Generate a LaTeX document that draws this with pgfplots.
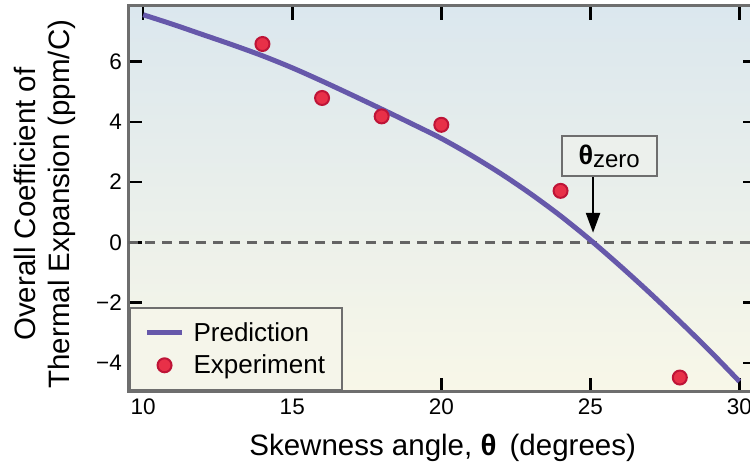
\documentclass[border=0pt]{standalone}
\usepackage{fontspec}
\setmainfont{Liberation Sans}
\usepackage{pgfplots}
\pgfplotsset{compat=1.18}
\usetikzlibrary{arrows.meta}
\definecolor{axgray}{RGB}{110,110,110}
\definecolor{curvec}{RGB}{102,88,170}
\definecolor{mkfill}{RGB}{232,48,72}
\definecolor{mkdraw}{RGB}{190,20,55}
\definecolor{bgtop}{RGB}{219,231,238}
\definecolor{bgbot}{RGB}{248,247,232}
\definecolor{legfill}{RGB}{245,245,234}
\definecolor{boxfill}{RGB}{236,240,236}
\definecolor{dashgray}{RGB}{100,100,100}
\begin{document}
\begin{tikzpicture}
\begin{axis}[
  at={(128.3pt,72.3pt)}, anchor=south west,
  scale only axis, width=628.7pt, height=386pt,
  xmin=9.5, xmax=30.59, ymin=-4.95, ymax=7.85,
  xtick={10,15,20,25,30}, xticklabels={10,15,20,25,30},
  ytick={-4,-2,0,2,4,6}, yticklabels={−4,−2,0,2,4,6},
  tick align=inside, major tick length=14pt,
  every tick/.style={black, line width=2.5pt},
  axis line style={axgray, line width=3pt},
  axis background/.style={top color=bgtop, bottom color=bgbot},
  ticklabel style={font=\fontsize{22.5}{26}\selectfont},
  xticklabel style={yshift=-4pt},
  yticklabel style={xshift=-3pt},
  xlabel={Skewness angle, \textbf{θ}\, (degrees)},
  ylabel={Overall Coefficient of\\Thermal Expansion (ppm/C)},
  label style={font=\fontsize{29.5}{34}\selectfont},
  xlabel style={at={(axis description cs:0.5,0)}, anchor=base, yshift=-63.3pt},
  ylabel style={at={(axis description cs:-0.133,0.486)}, anchor=center, align=center},
  legend style={at={(axis description cs:0,0)}, anchor=south west, draw=axgray, line width=2.5pt,
    fill=legfill, font=\fontsize{26}{31}\selectfont, inner xsep=15pt, inner ysep=13pt, row sep=8pt,
    /tikz/every odd column/.append style={column sep=7pt}},
  legend cell align=left,
  legend image code/.code={\draw[mark repeat=2, mark phase=2, #1] plot coordinates {(0pt,0pt) (17.5pt,0pt) (35pt,0pt)};},
]
\addplot[dashgray, line width=3pt, dash pattern=on 10pt off 7pt, forget plot] coordinates {(9.5,0) (30.59,0)};
\addplot[curvec, line width=5pt, smooth] coordinates {
(10,7.55) (11,7.23) (12,6.89) (13,6.55) (14,6.19) (15,5.79) (16,5.35) (17,4.89) (18,4.42) (19,3.94) (20,3.45)
(21,2.89) (22,2.28) (23,1.61) (24,0.88) (25,0.08) (26,-0.78) (27,-1.68) (28,-2.62) (29,-3.59) (30,-4.61)};
\addlegendentry{Prediction}
\addplot[only marks, mark=*, mark size=7pt, mark options={fill=mkfill, draw=mkdraw, line width=2pt}] coordinates {
(14,6.58) (16,4.79) (18,4.18) (20,3.90) (24,1.71) (28,-4.48)};
\addlegendentry{Experiment}
\draw[-{Triangle[length=20pt,width=14pt]}, line width=2.5pt, black] (axis cs:25.09,2.19) -- (axis cs:25.09,0.32);
\node[draw=axgray, line width=2pt, fill=boxfill, minimum width=95pt, minimum height=40pt, inner sep=0pt,
  font=\fontsize{27}{31}\selectfont] at (axis cs:25.63,2.85) {\textbf{θ}\raisebox{-3pt}{\fontsize{24}{27}\selectfont zero}};
\end{axis}
\pgfresetboundingbox
\path[use as bounding box] (0,0) rectangle (750pt,464pt);
\end{tikzpicture}
\end{document}
